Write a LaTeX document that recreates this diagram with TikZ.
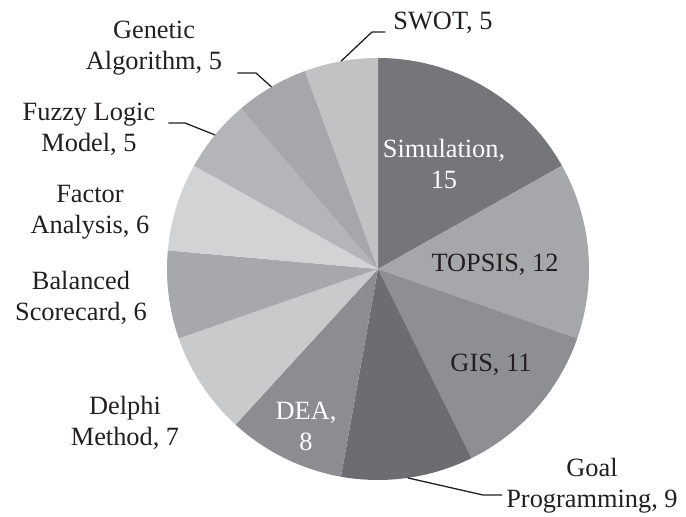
\documentclass[tikz,border=0pt]{standalone}
\usepackage{fontspec}
\setmainfont{Liberation Serif}
\usetikzlibrary{positioning,calc}
\definecolor{pieSim}{HTML}{75767A}
\definecolor{pieTopsis}{HTML}{A6A7AA}
\definecolor{pieGis}{HTML}{8E8F93}
\definecolor{pieGoal}{HTML}{6C6D71}
\definecolor{pieDea}{HTML}{8C8D91}
\definecolor{pieDelphi}{HTML}{C9CACC}
\definecolor{pieBsc}{HTML}{A7A8AB}
\definecolor{pieFactor}{HTML}{D2D3D5}
\definecolor{pieFuzzy}{HTML}{B4B5B8}
\definecolor{pieGenetic}{HTML}{A6A7AA}
\definecolor{pieSwot}{HTML}{C1C2C4}
\definecolor{pieInk}{HTML}{231F20}
\newcommand{\pieR}{6.33}
\newcommand{\pieslice}[3]{\fill[#1] (0,0) -- (#2:\pieR) arc[start angle=#2, end angle=#3, radius=\pieR] -- cycle;}
\tikzset{
  pieLabel/.style={font=\fontsize{22.5}{26.5}\selectfont, align=center, inner sep=0pt},
  lightLabel/.style={pieLabel, text=white},
  darkLabel/.style={pieLabel, text=pieInk},
  leaderLine/.style={draw=pieInk, line width=1.1pt}
}

\begin{document}
\begin{tikzpicture}
  \useasboundingbox (-11.34,-7.44) rectangle (9.24,8.07);

  % slices, clockwise from the top (89 in total)
  \pieslice{pieSim}{90}{29.326}
  \pieslice{pieTopsis}{29.326}{-19.213}
  \pieslice{pieGis}{-19.213}{-63.708}
  \pieslice{pieGoal}{-63.708}{-100.112}
  \pieslice{pieDea}{-100.112}{-132.472}
  \pieslice{pieDelphi}{-132.472}{-160.787}
  \pieslice{pieBsc}{-160.787}{-185.056}
  \pieslice{pieFactor}{-185.056}{-209.326}
  \pieslice{pieFuzzy}{-209.326}{-229.551}
  \pieslice{pieGenetic}{-229.551}{-249.775}
  \pieslice{pieSwot}{-249.775}{-270}

  % labels inside the pie
  \node[lightLabel] (sim) at (1.98,3.15) {Simulation,\\15};
  \node[darkLabel] (topsis) at (3.51,0.12) {TOPSIS, 12};
  \node[darkLabel] (gis) at (3.39,-2.88) {GIS, 11};
  \node[lightLabel] (dea) at (-2.16,-4.72) {DEA,\\8};

  % labels outside the pie
  \node[darkLabel] (goal) at (6.42,-6.51) {Goal\\Programming, 9};
  \node[darkLabel] (delphi) at (-7.59,-4.62) {Delphi\\Method, 7};
  \node[darkLabel] (bsc) at (-8.91,-0.87) {Balanced\\Scorecard, 6};
  \node[darkLabel] (factor) at (-8.64,1.71) {Factor\\Analysis, 6};
  \node[darkLabel] (fuzzy) at (-8.67,4.20) {Fuzzy Logic\\Model, 5};
  \node[darkLabel] (genetic) at (-6.72,6.62) {Genetic\\Algorithm, 5};
  \node[darkLabel] (swot) at (1.95,7.38) {SWOT, 5};

  % leader lines
  \coordinate (goalPt) at (-81.91:\pieR);
  \coordinate (goalKnee) at (3.15,-6.78);
  \coordinate (fuzzyPt) at (-219.44:\pieR);
  \coordinate (fuzzyKnee) at (-5.79,4.38);
  \coordinate (geneticPt) at (-239.66:\pieR);
  \coordinate (geneticKnee) at (-3.66,5.88);
  \coordinate (swotPt) at (-259.89:\pieR);
  \coordinate (swotKnee) at (-0.18,7.11);

  \draw[leaderLine, shorten >=0.12cm] (goalPt) -- (goalKnee) -- (goalKnee -| goal.west);
  \draw[leaderLine, shorten >=0.39cm] (fuzzyPt) -- (fuzzyKnee) -- (fuzzyKnee -| fuzzy.east);
  \draw[leaderLine, shorten >=0.45cm] (geneticPt) -- (geneticKnee) -- (geneticKnee -| genetic.east);
  \draw[leaderLine, shorten >=0.24cm] (swotPt) -- (swotKnee) -- (swotKnee -| swot.west);
\end{tikzpicture}
\end{document}
